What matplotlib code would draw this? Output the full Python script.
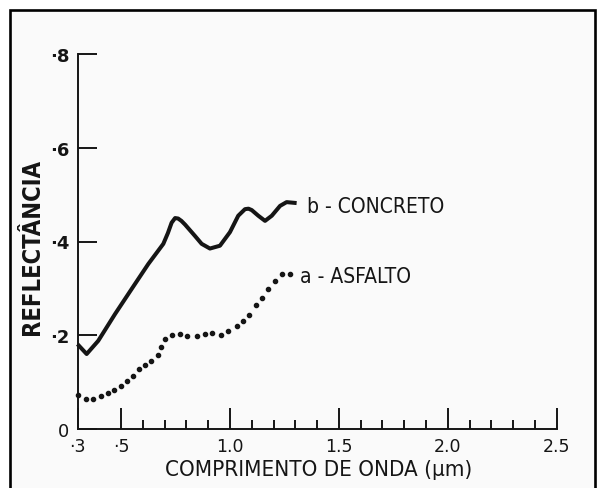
import matplotlib
matplotlib.use("Agg")
import matplotlib.pyplot as plt
from matplotlib.lines import Line2D
from matplotlib.patches import Rectangle

# Spectral reflectance of urban surfaces
wavelength_concrete = [0.300, 0.342, 0.395, 0.472, 0.549, 0.625, 0.694, 0.715, 0.732,
                       0.748, 0.762, 0.777, 0.794, 0.839, 0.870, 0.908, 0.954, 1.000,
                       1.038, 1.069, 1.085, 1.100, 1.130, 1.161, 1.192, 1.230, 1.260,
                       1.306]
refl_concrete = [0.181, 0.160, 0.188, 0.245, 0.299, 0.352, 0.395, 0.418, 0.440,
                 0.450, 0.449, 0.444, 0.436, 0.412, 0.395, 0.385, 0.391, 0.420,
                 0.455, 0.469, 0.470, 0.467, 0.455, 0.444, 0.455, 0.476, 0.484,
                 0.482]

wavelength_asphalt = [0.304, 0.338, 0.373, 0.408, 0.439, 0.469, 0.500, 0.529, 0.553,
                      0.582, 0.610, 0.637, 0.668, 0.683, 0.702, 0.732, 0.771, 0.804,
                      0.847, 0.885, 0.919, 0.958, 0.992, 1.031, 1.061, 1.089, 1.120,
                      1.147, 1.176, 1.207, 1.238, 1.276]
refl_asphalt = [0.072, 0.064, 0.065, 0.070, 0.077, 0.084, 0.092, 0.103, 0.114,
                0.127, 0.137, 0.146, 0.158, 0.174, 0.191, 0.200, 0.202, 0.198,
                0.198, 0.203, 0.205, 0.200, 0.210, 0.220, 0.231, 0.244, 0.265,
                0.280, 0.299, 0.316, 0.331, 0.331]

y_ticks = [0.0, 0.2, 0.4, 0.6, 0.8]
y_ticklabels = ["0", "\u00b72", "\u00b74", "\u00b76", "\u00b78"]
x_major = [0.3, 0.5, 1.0, 1.5, 2.0, 2.5]
x_ticklabels = ["\u00b73", "\u00b75", "1.0", "1.5", "2.0", "2.5"]
x_minor = [0.6, 0.7, 0.8, 0.9, 1.1, 1.2, 1.3, 1.4, 1.6, 1.7, 1.8, 1.9,
           2.1, 2.2, 2.3, 2.4]

label_concrete = "b - CONCRETO"
label_asphalt = "a - ASFALTO"
xlabel = "COMPRIMENTO DE ONDA (\u03bcm)"
ylabel = "REFLECT\u00c2NCIA"

INK = "#151515"
W, H = 602, 489
fig = plt.figure(figsize=(W / 100, H / 100), dpi=100)
fig.patch.set_facecolor("white")

# paper background and hand-drawn frame
fig.patches.append(Rectangle((10 / W, 0), 585 / W, 478 / H, transform=fig.transFigure,
                             facecolor="#fafafa", edgecolor="none", zorder=-10))
fig.lines.append(Line2D([10 / W, 10 / W, 595 / W, 595 / W],
                        [0, 478 / H, 478 / H, 0], transform=fig.transFigure,
                        color="black", linewidth=1.9, solid_joinstyle="miter"))

ax = fig.add_axes([77.5 / W, 59 / H, (556.7 - 77.5) / W, (430 - 55) / H])
ax.set_facecolor("none")
ax.set_xlim(0.3, 2.5)
ax.set_ylim(0, 0.8)

for s in ("top", "right"):
    ax.spines[s].set_visible(False)
for s in ("left", "bottom"):
    ax.spines[s].set_linewidth(1.4)
    ax.spines[s].set_color(INK)

ax.set_yticks(y_ticks)
ax.set_yticklabels(y_ticklabels)
ax.set_xticks(x_major)
ax.set_xticklabels(x_ticklabels)
ax.set_xticks(x_minor, minor=True)

ax.tick_params(axis="y", direction="in", length=14, width=1.4, color=INK, pad=6,
               labelsize=13, labelcolor=INK)
ax.tick_params(axis="x", which="major", direction="in", length=15, width=1.4,
               color=INK, pad=6, labelsize=12.5, labelcolor=INK)
ax.tick_params(axis="x", which="minor", direction="in", length=6.5, width=1.4,
               color=INK)
for t in ax.get_yticklabels()[1:]:
    t.set_fontweight("bold")

ax.plot(wavelength_concrete, refl_concrete, color=INK, linewidth=2.9,
        solid_joinstyle="round", solid_capstyle="butt", clip_on=False)
ax.plot(wavelength_asphalt, refl_asphalt, linestyle="none", marker="o",
        markersize=3.0, markerfacecolor=INK, markeredgecolor=INK, clip_on=False)

ax.text(1.354, 0.476, label_concrete, fontsize=15, color=INK, ha="left",
        va="center", fontstretch="condensed")
ax.text(1.322, 0.326, label_asphalt, fontsize=15, color=INK, ha="left",
        va="center", fontstretch="condensed")

fig.text(319 / W, 1 - 470 / H, xlabel, fontsize=16, color=INK, ha="center",
         va="center", fontstretch="condensed")
fig.text(32 / W, 1 - 247 / H, ylabel, fontsize=17, color=INK, ha="center",
         va="center", rotation=90, fontweight="bold", fontstretch="condensed")

fig.savefig("out.png", dpi=100)
